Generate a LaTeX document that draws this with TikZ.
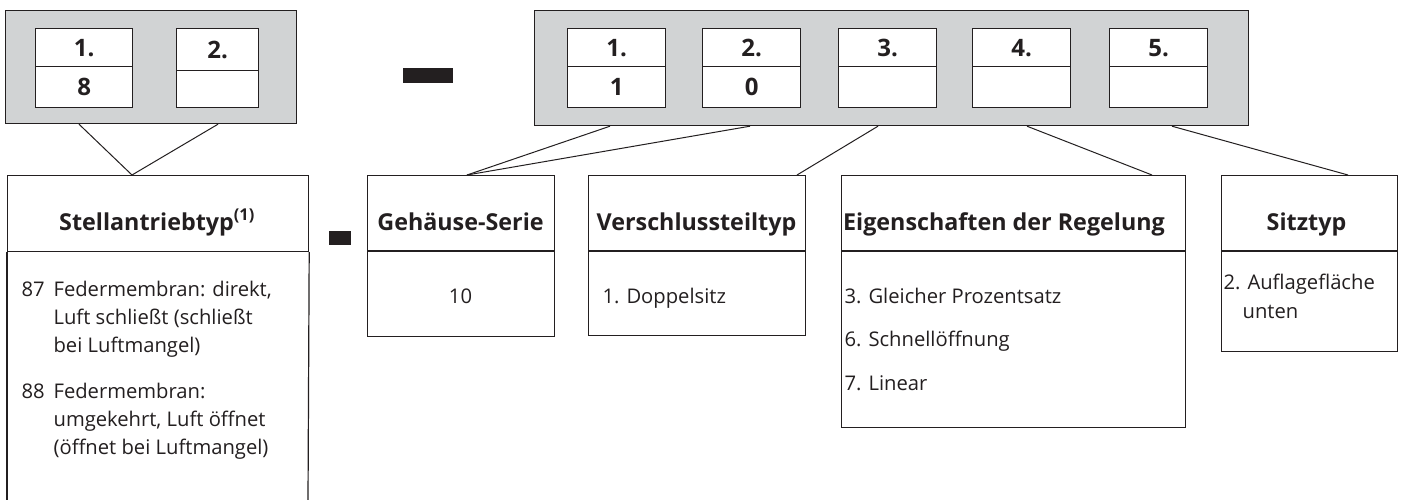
\documentclass[tikz,border=0pt]{standalone}
\usepackage{fontspec}
\setmainfont{Open Sans}
\definecolor{ink}{HTML}{231F20}
\definecolor{panelgray}{HTML}{D1D3D4}
\tikzset{
  panelbox/.style={draw, fill=panelgray, inner sep=0pt, anchor=north west},
  cell/.style={draw, fill=white, inner sep=0pt, anchor=north west, minimum width=98pt,
               font=\bfseries\fontsize{24}{24}\selectfont},
  frame/.style={draw, inner sep=0pt, anchor=north west},
  head/.style={inner sep=0pt, anchor=base, font=\bfseries\fontsize{23.3}{26}\selectfont},
  bodytxt/.style={inner sep=0pt, anchor=base west, font=\fontsize{20.2}{24}\selectfont},
  minusbar/.style={fill=ink, inner sep=0pt, anchor=north west},
  conn/.style={line width=1pt}
}
\begin{document}
\begin{tikzpicture}[x=1pt, y=-1pt, line width=1.2pt, color=ink]
\useasboundingbox[fill=white] (0,0) rectangle (1401,500);

% ---- left code panel
\node[panelbox, minimum width=291pt, minimum height=113pt] (L) at (5,10) {};
\node[cell, minimum width=97pt, minimum height=38pt] (L1t) at (35,28) {1.};
\node[cell, minimum width=97pt, minimum height=41pt] (L1b) at (35,66) {8};
\node[cell, minimum width=82pt, minimum height=42pt] (L2t) at (176,28) {2.};
\node[cell, minimum width=82pt, minimum height=37pt] (L2b) at (176,70) {};

% ---- big minus
\node[minusbar, minimum width=50pt, minimum height=15pt] (bigminus) at (402,67) {};

% ---- right code panel
\node[panelbox, minimum width=714pt, minimum height=115pt] (R) at (534,10) {};
\node[cell, minimum height=38pt] (R1t) at (567,28) {1.};
\node[cell, minimum height=41pt] (R1b) at (567,66) {1};
\node[cell, minimum height=38pt] (R2t) at (702,28) {2.};
\node[cell, minimum height=41pt] (R2b) at (702,66) {0};
\node[cell, minimum height=38pt] (R3t) at (838,28) {3.};
\node[cell, minimum height=41pt] (R3b) at (838,66) {};
\node[cell, minimum height=38pt] (R4t) at (972,28) {4.};
\node[cell, minimum height=41pt] (R4b) at (972,66) {};
\node[cell, minimum height=38pt] (R5t) at (1109,28) {5.};
\node[cell, minimum height=41pt] (R5b) at (1109,66) {};

% ---- small minus
\node[minusbar, minimum width=22pt, minimum height=14pt] (smallminus) at (328,230) {};

% ---- Stellantriebtyp box (open at bottom)
\node[frame, minimum width=301pt, minimum height=76pt] (S) at (7,175) {};
\coordinate (Sbl) at (7,501);
\coordinate (Sbr) at (308,501);
\draw (S.south west) -- (Sbl);
\draw (S.south east) -- (Sbr);
\node[head] (Sh) at (157,230) {Stellantriebtyp\textsuperscript{(1)}};
\node[bodytxt] (s87) at (21,296.5) {87};
\node[bodytxt] (s87a) at (53,296.5) {Federmembran: direkt,};
\node[bodytxt] (s87b) at (53,324.5) {Luft schließt (schließt};
\node[bodytxt] (s87c) at (53,352.5) {bei Luftmangel)};
\node[bodytxt] (s88) at (21,398.5) {88};
\node[bodytxt] (s88a) at (53,398.5) {Federmembran:};
\node[bodytxt] (s88b) at (53,426.5) {umgekehrt, Luft öffnet};
\node[bodytxt] (s88c) at (53,454.5) {(öffnet bei Luftmangel)};

% ---- Gehäuse-Serie
\node[frame, minimum width=187pt, minimum height=161pt] (G) at (367,175) {};
\draw ([yshift=-76pt]G.north west) -- ([yshift=-76pt]G.north east);
\node[head] (Gh) at (460.5,230) {Gehäuse-Serie};
\node[bodytxt, anchor=base] (Gb) at (460.5,303) {10};

% ---- Verschlussteiltyp
\node[frame, minimum width=217pt, minimum height=160pt] (V) at (588,175) {};
\draw ([yshift=-76pt]V.north west) -- ([yshift=-76pt]V.north east);
\node[head] (Vh) at (696.5,230) {Verschlussteiltyp};
\node[bodytxt] (Vb) at (602,303) {1. Doppelsitz};

% ---- Eigenschaften der Regelung
\node[frame, minimum width=344pt, minimum height=252pt] (E) at (841,175) {};
\draw ([yshift=-76pt]E.north west) -- ([yshift=-76pt]E.north east);
\node[head] (Eh) at (1004,230) {Eigenschaften der Regelung};
\node[bodytxt] (E3) at (844,303) {3. Gleicher Prozentsatz};
\node[bodytxt] (E6) at (844,346.5) {6. Schnellöffnung};
\node[bodytxt] (E7) at (844,390) {7. Linear};

% ---- Sitztyp
\node[frame, minimum width=176pt, minimum height=176pt] (Z) at (1221,175) {};
\draw ([yshift=-76pt]Z.north west) -- ([yshift=-76pt]Z.north east);
\node[head] (Zh) at (1306.5,230) {Sitztyp};
\node[bodytxt] (Z2) at (1223,289.5) {2. Auflagefläche};
\node[bodytxt] (Z2b) at (1242,318) {unten};

% ---- connectors
\draw[conn] ([xshift=74pt]L.south west) -- ([xshift=125pt]S.north west);
\draw[conn] ([xshift=213pt]L.south west) -- ([xshift=125pt]S.north west);
\draw[conn] ([xshift=76pt]R.south west) -- ([xshift=100pt]G.north west);
\draw[conn] ([xshift=216pt]R.south west) -- ([xshift=100pt]G.north west);
\draw[conn] ([xshift=344pt]R.south west) -- ([xshift=209pt]V.north west);
\draw[conn] ([xshift=493pt]R.south west) -- ([xshift=311pt]E.north west);
\draw[conn] ([xshift=638pt]R.south west) -- ([xshift=127pt]Z.north west);
\end{tikzpicture}
\end{document}
